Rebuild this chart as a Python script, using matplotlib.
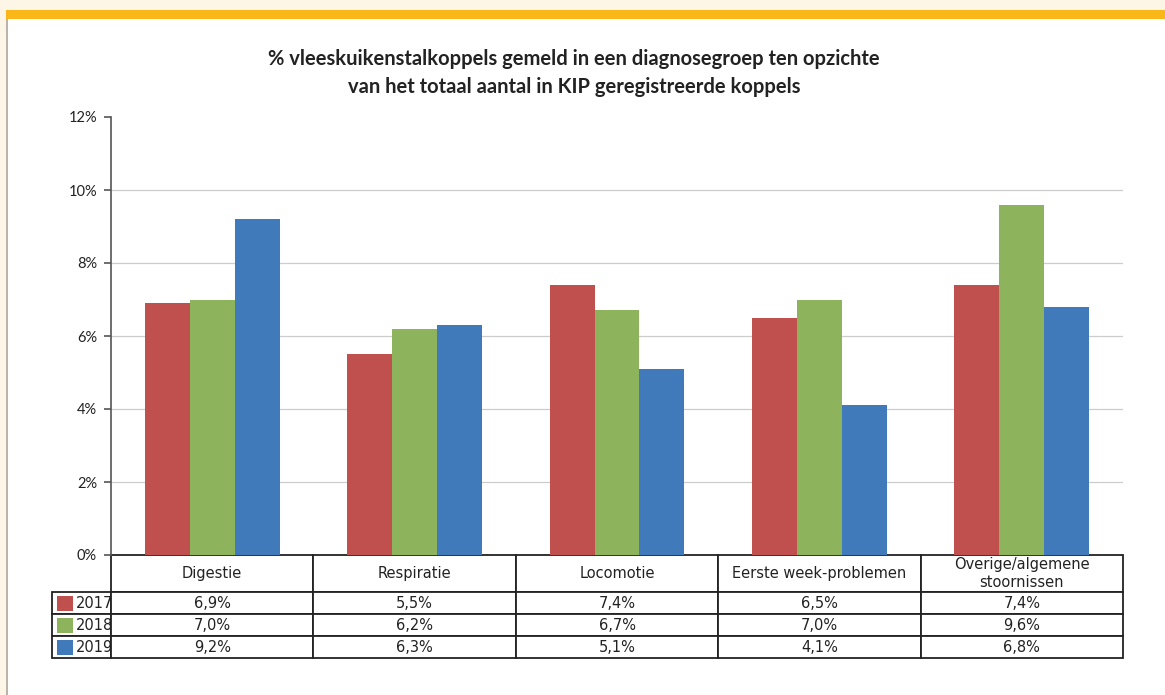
import matplotlib.pyplot as plt
import matplotlib.patches as mpatches
import numpy as np

# ---- data ----
categories = ["Digestie", "Respiratie", "Locomotie", "Eerste week-problemen",
              "Overige/algemene\nstoornissen"]
years = ["2017", "2018", "2019"]
pct_2017 = [6.9, 5.5, 7.4, 6.5, 7.4]
pct_2018 = [7.0, 6.2, 6.7, 7.0, 9.6]
pct_2019 = [9.2, 6.3, 5.1, 4.1, 6.8]
series = [pct_2017, pct_2018, pct_2019]
colors = ["#c0504d", "#8db35c", "#407abb"]

title = ("% vleeskuikenstalkoppels gemeld in een diagnosegroep ten opzichte\n"
         "van het totaal aantal in KIP geregistreerde koppels")

W, H = 1165, 695
fig = plt.figure(figsize=(W / 100, H / 100), dpi=100)
fig.patch.set_facecolor("#fdf6e7")

# white panel with orange header strip and grey left edge
fig.add_artist(mpatches.Rectangle((7 / W, 0), 1, 1 - 19 / H, transform=fig.transFigure,
                                  facecolor="white", edgecolor="none", zorder=0))
fig.add_artist(mpatches.Rectangle((6 / W, 1 - 19 / H), 1, 9 / H, transform=fig.transFigure,
                                  facecolor="#fbb61a", edgecolor="none", zorder=0))
fig.add_artist(mpatches.Rectangle((6 / W, 0), 1.5 / W, 1 - 19 / H, transform=fig.transFigure,
                                  facecolor="#b9b5ad", edgecolor="none", zorder=0))

fig.text(574 / W, 1 - 73 / H, title, ha="center", va="center", fontsize=14.5,
         fontweight="bold", family=["Lato", "DejaVu Sans"], color="#222222",
         linespacing=1.5)

ax_l, ax_r, ax_b, ax_t = 111, 1123, 555, 117
ax = fig.add_axes([ax_l / W, 1 - ax_b / H, (ax_r - ax_l) / W, (ax_b - ax_t) / H])
ax.set_facecolor("none")

x = np.arange(len(categories))
bw = 0.222
for i, (vals, c) in enumerate(zip(series, colors)):
    ax.bar(x + (i - 1) * bw, vals, width=bw, color=c, edgecolor="none", zorder=3)

ax.set_xlim(-0.5, len(categories) - 0.5)
ax.set_ylim(0, 12)
ax.set_yticks(range(0, 13, 2))
ax.set_yticklabels([f"{v}%" for v in range(0, 13, 2)], family=["Lato", "DejaVu Sans"],
                   fontsize=10.5, color="#222222")
ax.set_xticks([])
for v in range(2, 11, 2):
    ax.axhline(v, color="#cccccc", lw=0.9, zorder=1)
for s in ["top", "right", "bottom"]:
    ax.spines[s].set_visible(False)
ax.spines["left"].set_color("#555555")
ax.spines["left"].set_linewidth(1.2)
ax.tick_params(axis="y", length=5, width=1.2, color="#555555", pad=5)

# ---- data table below the axes (first column holds the year labels) ----
ax_h = ax_b - ax_t
ax_w = ax_r - ax_l
label_w = 59
head_h, row_h = 37, 22
col_w = ax_w / len(categories)
cell_text = [[yr] + [f"{v:.1f}%".replace(".", ",") for v in vals]
             for yr, vals in zip(years, series)]
tbl = ax.table(cellText=cell_text, colLabels=[""] + categories, cellLoc="center",
               bbox=[-label_w / ax_w, -(head_h + 3 * row_h) / ax_h,
                     1 + label_w / ax_w, (head_h + 3 * row_h) / ax_h])
tbl.auto_set_font_size(False)
for (r, c), cell in tbl.get_celld().items():
    cell.set_linewidth(1.3)
    cell.set_edgecolor("#222222")
    txt = cell.get_text()
    txt.set_fontsize(10.5)
    txt.set_family(["Liberation Sans Narrow", "DejaVu Sans"])
    txt.set_color("#222222")
    cell.set_height(head_h if r == 0 else row_h)
    cell.set_width(label_w if c == 0 else col_w)
    if c == 0:
        txt.set_ha("left")
        cell.PAD = 0.40
        if r == 0:
            cell.visible_edges = ""

# colour swatches in the year label cells
for i, c in enumerate(colors):
    top = ax_b + head_h + i * row_h + 4
    ax.add_patch(mpatches.Rectangle(((57 - ax_l) / ax_w, (ax_b - top - 15) / ax_h),
                                    16 / ax_w, 15 / ax_h, transform=ax.transAxes,
                                    facecolor=c, edgecolor="none", clip_on=False, zorder=5))

fig.savefig("out.png", dpi=100, facecolor=fig.get_facecolor())
